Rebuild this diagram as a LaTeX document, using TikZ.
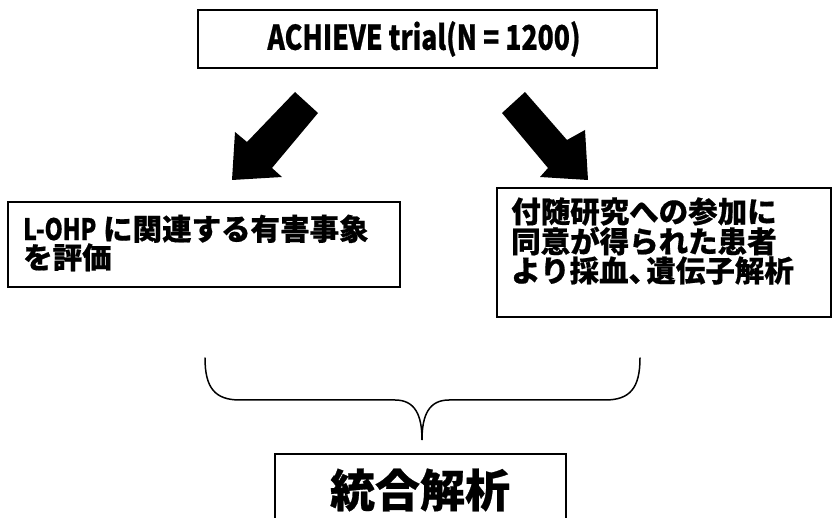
\documentclass[tikz,border=0pt]{standalone}
\usepackage{fontspec}
\newfontfamily\jp{Noto Sans CJK JP}[BoldFeatures={FakeBold=0.6}]
\newfontfamily\jpn{Noto Sans CJK JP}[FakeStretch=0.78,BoldFeatures={FakeBold=0.6}]
\begin{document}
\begin{tikzpicture}[x=1pt,y=-1pt,
  box/.style={draw=black,line width=1.8pt,rectangle,inner sep=0pt},
  txt/.style={inner sep=0pt,align=left},
  blockarrow/.style={fill=black,draw=none},
  brace/.style={draw=black,line width=1.5pt,line cap=round}]
\useasboundingbox (0,0) rectangle (833,518);
% top box
\node[box,minimum width=459pt,minimum height=58pt] (top) at (427.5,39) {};
\node[txt,font=\jpn\bfseries\fontsize{34}{36}\selectfont] (toptext) at (424,39) {ACHIEVE trial(N = 1200)};
% block arrows
\fill[blockarrow] (295,92) -- (318,113) -- (272,168) -- (282,177) -- (232,180) -- (235,132) -- (247,142) -- cycle;
\fill[blockarrow] (525,92) -- (567,140) -- (585,130) -- (588,180) -- (540,177) -- (548,168) -- (502,113) -- cycle;
% left box
\node[box,minimum width=392pt,minimum height=85pt] (lbox) at (204,244.5) {};
\node[txt,anchor=west,font=\jp\bfseries\fontsize{29.5}{28.5}\selectfont] (ltext) at (23,243) {{\jpn L-OHP} に関連する有害事象\\を評価};
% right box
\node[box,minimum width=334pt,minimum height=129pt] (rbox) at (664,252.5) {};
\node[txt,anchor=west,font=\jp\bfseries\fontsize{29.5}{28}\selectfont] (rtext) at (511,241) {付随研究への参加に\\同意が得られた患者\\より採血、\kern-0.4em 遺伝子解析};
% brace
\draw[brace] (205,358) .. controls (205,388) and (215,400) .. (240,400) -- (395,400)
  .. controls (415,400) and (422,415) .. (422,440)
  .. controls (422,415) and (429,400) .. (449,400) -- (605,400)
  .. controls (630,400) and (640,388) .. (640,358);
% bottom box
\node[box,minimum width=291pt,minimum height=80pt,anchor=north] (bbox) at (420.5,453) {};
\node[txt,font=\jp\bfseries\fontsize{45}{48}\selectfont] (btext) at (420,490) {統合解析};
\end{tikzpicture}
\end{document}
